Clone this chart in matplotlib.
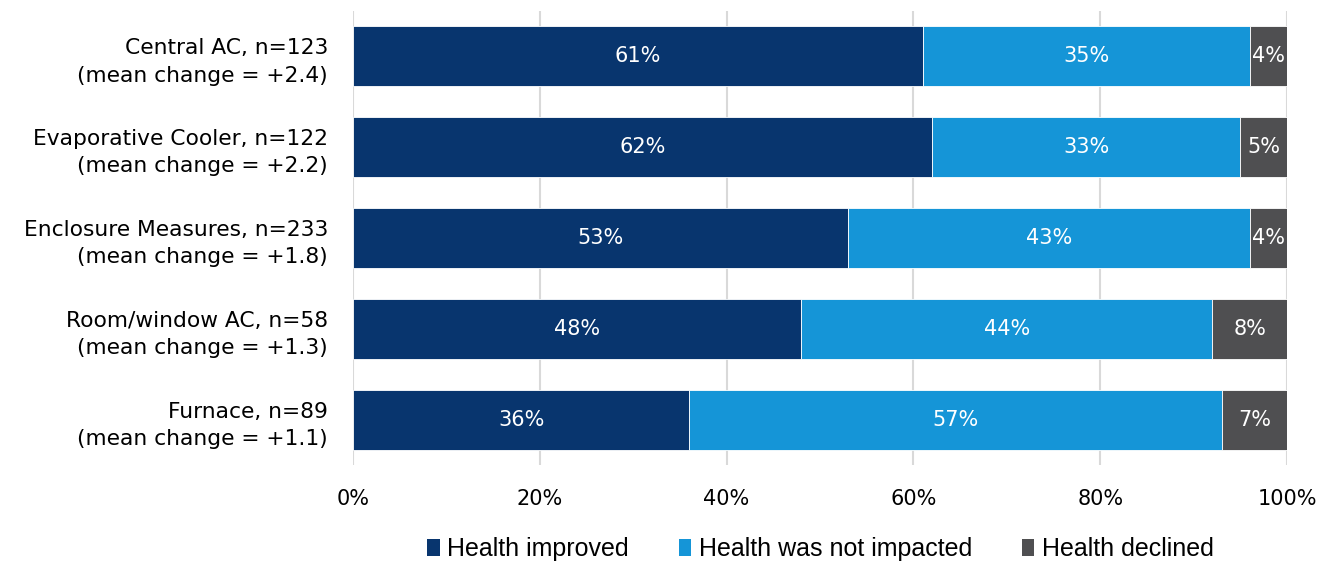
import matplotlib.pyplot as plt
import numpy as np
from matplotlib.patches import Patch

plt.rcParams['font.family'] = ['DejaVu Sans']

categorias = ["Central AC, n=123\n(mean change = +2.4)",
              "Evaporative Cooler, n=122\n(mean change = +2.2)",
              "Enclosure Measures, n=233\n(mean change = +1.8)",
              "Room/window AC, n=58\n(mean change = +1.3)",
              "Furnace, n=89\n(mean change = +1.1)"]
mejoro = [61, 62, 53, 48, 36]
sin_impacto = [35, 33, 43, 44, 57]
empeoro = [4, 5, 4, 8, 7]
series = ["Health improved", "Health was not impacted", "Health declined"]
colores = ["#08356E", "#1595D7", "#4F4F51"]

fig = plt.figure(figsize=(13.33, 5.62), dpi=100)
ax = fig.add_axes([0.2648, 0.1726, 0.7007, 0.8078])

y = np.arange(len(categorias))
izquierda = np.zeros(len(categorias))
for valores, color in zip([mejoro, sin_impacto, empeoro], colores):
    barras = ax.barh(y, valores, left=izquierda, height=0.66, color=color,
                     edgecolor="white", linewidth=0.6, zorder=2)
    for b, v in zip(barras, valores):
        ax.text(b.get_x() + b.get_width() / 2, b.get_y() + b.get_height() / 2,
                f"{v}%", ha="center", va="center", color="white", fontsize=15)
    izquierda += np.array(valores)

ax.set_ylim(len(categorias) - 0.5, -0.5)
ax.set_xlim(0, 100)
ax.set_xticks([0, 20, 40, 60, 80, 100])
ax.set_xticklabels(["0%", "20%", "40%", "60%", "80%", "100%"], fontsize=15)
ax.set_yticks(y)
ax.set_yticklabels(categorias, fontsize=15.7, linespacing=1.45)
ax.tick_params(length=0)
ax.tick_params(axis="y", pad=18)
ax.tick_params(axis="x", pad=17)
ax.grid(axis="x", color="#D9D9D9", linewidth=1.5, zorder=0)
for s in ax.spines.values():
    s.set_visible(False)

manijas = [Patch(facecolor=c, edgecolor="none") for c in colores]
fig.legend(manijas, series, loc="center", bbox_to_anchor=(0.6155, 0.023),
           ncol=3, frameon=False, handlelength=0.5, handleheight=0.7,
           handletextpad=0.3, columnspacing=2.0,
           prop={"family": ["Liberation Sans Narrow", "Liberation Sans"], "size": 18})

fig.savefig("out.png", dpi=100)
